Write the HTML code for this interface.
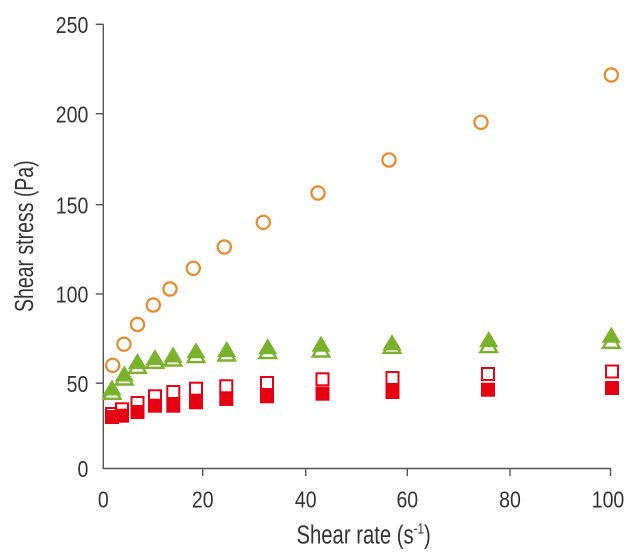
<!DOCTYPE html>
<html>
<head>
<meta charset="utf-8">
<style>
  html,body{margin:0;padding:0;background:#fff;}
  svg{display:block;}
  text{font-family:"Liberation Sans",Arial,sans-serif;fill:#333;}
</style>
</head>
<body>
<svg width="636" height="557" viewBox="0 0 636 557" xmlns="http://www.w3.org/2000/svg">
  <rect width="636" height="557" fill="#fff"/>
  <!-- axes -->
  <g stroke="#555" stroke-width="1.4" fill="none">
    <line x1="103.3" y1="24.3" x2="103.3" y2="469"/>
    <line x1="103.3" y1="468.5" x2="611" y2="468.5"/>
    <!-- y ticks -->
    <line x1="95.7" y1="24.3" x2="103.3" y2="24.3"/>
    <line x1="95.7" y1="113.7" x2="103.3" y2="113.7"/>
    <line x1="95.7" y1="204.7" x2="103.3" y2="204.7"/>
    <line x1="95.7" y1="294" x2="103.3" y2="294"/>
    <line x1="95.7" y1="383.2" x2="103.3" y2="383.2"/>
    <!-- x ticks -->
    <line x1="202.7" y1="468.5" x2="202.7" y2="476"/>
    <line x1="305.7" y1="468.5" x2="305.7" y2="476"/>
    <line x1="407.3" y1="468.5" x2="407.3" y2="476"/>
    <line x1="510" y1="468.5" x2="510" y2="476"/>
    <line x1="610.5" y1="468.5" x2="610.5" y2="476"/>
  </g>

  <!-- y tick labels -->
  <g font-size="23.5" text-anchor="end">
    <text transform="translate(88.3,33) scale(0.83,1)">250</text>
    <text transform="translate(88.3,122.4) scale(0.83,1)">200</text>
    <text transform="translate(88.3,213.4) scale(0.83,1)">150</text>
    <text transform="translate(88.3,302.7) scale(0.83,1)">100</text>
    <text transform="translate(88.3,391.9) scale(0.83,1)">50</text>
    <text transform="translate(88.3,477) scale(0.83,1)">0</text>
  </g>
  <!-- x tick labels -->
  <g font-size="23.5" text-anchor="middle">
    <text transform="translate(103.3,507.7) scale(0.83,1)">0</text>
    <text transform="translate(202.7,507.7) scale(0.83,1)">20</text>
    <text transform="translate(305.7,507.7) scale(0.83,1)">40</text>
    <text transform="translate(407.3,507.7) scale(0.83,1)">60</text>
    <text transform="translate(510,507.7) scale(0.83,1)">80</text>
    <text transform="translate(608,507.7) scale(0.83,1)">100</text>
  </g>

  <!-- axis titles -->
  <text font-size="26" transform="translate(296.5,543.3) scale(0.78,1)">Shear rate (s<tspan font-size="15" dy="-10">-1</tspan><tspan dy="10">)</tspan></text>
  <text font-size="26" transform="translate(33,312) rotate(-90) scale(0.75,1)">Shear stress (Pa)</text>

  <!-- orange circles -->
  <g fill="none" stroke="#e5892a" stroke-width="2.2">
    <circle cx="112.7" cy="365.3" r="6.6"/>
    <circle cx="124" cy="344.2" r="6.6"/>
    <circle cx="137.5" cy="324.5" r="6.6"/>
    <circle cx="153.3" cy="305" r="6.6"/>
    <circle cx="170" cy="289" r="6.6"/>
    <circle cx="193.3" cy="268.3" r="6.6"/>
    <circle cx="224.3" cy="247" r="6.6"/>
    <circle cx="263.3" cy="222.3" r="6.6"/>
    <circle cx="318" cy="193" r="6.6"/>
    <circle cx="389" cy="160" r="6.6"/>
    <circle cx="481" cy="122.3" r="6.6"/>
    <circle cx="611.3" cy="75" r="6.6"/>
  </g>

  <!-- hollow triangles -->
  <g fill="#fff" stroke="#7ab22c" stroke-width="2.4" stroke-linejoin="miter">
    <polygon points="103.7,398.8 112,384.6 120.3,398.8"/>
    <polygon points="116,384.5 124.3,370.3 132.6,384.5"/>
    <polygon points="129.2,372.8 137.5,358.6 145.8,372.8"/>
    <polygon points="146.7,367.8 155,353.6 163.3,367.8"/>
    <polygon points="164.7,365.5 173,351.3 181.3,365.5"/>
    <polygon points="187.7,362.1 196,347.9 204.3,362.1"/>
    <polygon points="218.4,360.5 226.7,346.3 235,360.5"/>
    <polygon points="259.5,358.1 267.8,343.9 276.1,358.1"/>
    <polygon points="312.7,356.5 321,342.3 329.3,356.5"/>
    <polygon points="383.7,352.8 392,338.6 400.3,352.8"/>
    <polygon points="480.4,352.1 488.7,337.9 497,352.1"/>
    <polygon points="603,347.8 611.3,333.6 619.6,347.8"/>
  </g>
  <!-- filled triangles -->
  <g fill="#7ab22c">
    <polygon points="102.5,395.5 112,379.5 121.5,395.5"/>
    <polygon points="114.8,381.5 124.3,365.5 133.8,381.5"/>
    <polygon points="128,369 137.5,353 147,369"/>
    <polygon points="145.5,365 155,349 164.5,365"/>
    <polygon points="163.5,362.5 173,346.5 182.5,362.5"/>
    <polygon points="186.5,358.3 196,342.3 205.5,358.3"/>
    <polygon points="217.2,357 226.7,341 236.2,357"/>
    <polygon points="258.3,354.3 267.8,338.3 277.3,354.3"/>
    <polygon points="311.5,351.7 321,335.7 330.5,351.7"/>
    <polygon points="382.5,350.3 392,334.3 401.5,350.3"/>
    <polygon points="479.2,347 488.7,331 498.2,347"/>
    <polygon points="601.8,342.7 611.3,326.7 620.8,342.7"/>
  </g>

  <!-- hollow squares -->
  <g fill="#fff" stroke="#e50012" stroke-width="2">
    <rect x="106" y="408" width="12" height="12"/>
    <rect x="116" y="403.3" width="12" height="12"/>
    <rect x="131.5" y="397" width="12" height="12"/>
    <rect x="149" y="390.3" width="12" height="12"/>
    <rect x="167.3" y="386" width="12" height="12"/>
    <rect x="190" y="382.7" width="12" height="12"/>
    <rect x="220.3" y="380.3" width="12" height="12"/>
    <rect x="261" y="377" width="12" height="12"/>
    <rect x="316.5" y="373.3" width="12" height="12"/>
    <rect x="386.5" y="372" width="12" height="12"/>
    <rect x="482" y="368" width="12" height="12"/>
    <rect x="606" y="365.5" width="12" height="12"/>
  </g>
  <!-- filled squares -->
  <g fill="#e50012">
    <rect x="115" y="408.7" width="14" height="14"/>
    <rect x="105" y="410" width="14" height="14"/>
    <rect x="130.5" y="405" width="14" height="14"/>
    <rect x="148" y="398.7" width="14" height="14"/>
    <rect x="166.3" y="398.7" width="14" height="14"/>
    <rect x="189" y="395.3" width="14" height="14"/>
    <rect x="219.3" y="392" width="14" height="14"/>
    <rect x="260" y="389.3" width="14" height="14"/>
    <rect x="315.5" y="386.7" width="14" height="14"/>
    <rect x="385.5" y="385" width="14" height="14"/>
    <rect x="481" y="382.7" width="14" height="14"/>
    <rect x="605" y="381" width="14" height="14"/>
  </g>
</svg>
</body>
</html>
